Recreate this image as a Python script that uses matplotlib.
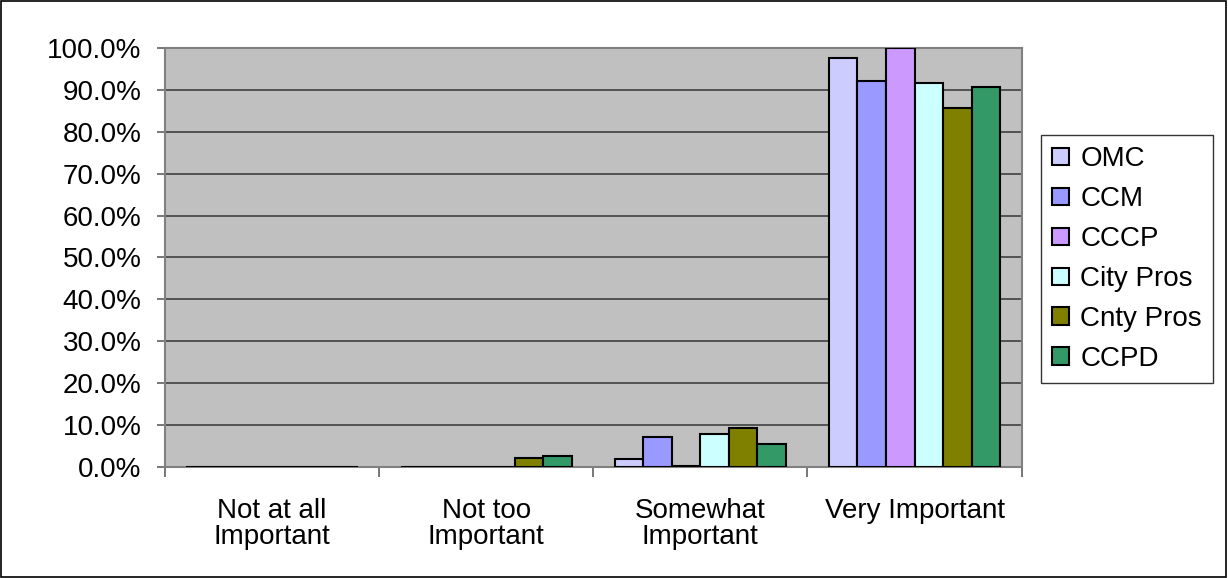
import numpy as np
import matplotlib.pyplot as plt
from matplotlib.patches import Rectangle

plt.rcParams['font.family'] = ['Liberation Sans', 'DejaVu Sans']

categories = ['Not at all\nImportant', 'Not too\nImportant', 'Somewhat\nImportant', 'Very Important']
series = ['OMC', 'CCM', 'CCCP', 'City Pros', 'Cnty Pros', 'CCPD']
colors = ['#CCCCFF', '#9999FF', '#CC99FF', '#CCFFFF', '#808000', '#339966']

omc = [0.0, 0.0, 1.8, 97.7]
ccm = [0.0, 0.0, 7.1, 92.0]
cccp = [0.0, 0.0, 0.2, 100.0]
city_pros = [0.0, 0.0, 8.0, 91.6]
cnty_pros = [0.0, 2.2, 9.2, 85.7]
ccpd = [0.0, 2.7, 5.5, 90.6]
values = [omc, ccm, cccp, city_pros, cnty_pros, ccpd]

fig = plt.figure(figsize=(12.28, 5.78), dpi=100)
ax = fig.add_axes([0.1344, 0.192, 0.6975, 0.725])
ax.set_facecolor('#C0C0C0')

x = np.arange(len(categories))
w = 0.8 / len(series)
for i, (name, vals) in enumerate(zip(series, values)):
    ax.bar(x - 0.4 + w * (i + 0.5), vals, w, color=colors[i], edgecolor='black',
           linewidth=1.5, label=name, zorder=3)

ax.set_xlim(-0.5, len(categories) - 0.5)
ax.set_ylim(0, 100)
ax.set_yticks(np.arange(0, 101, 10))
ax.set_yticklabels(['%.1f%%' % v for v in np.arange(0, 101, 10)], fontsize=20)
ax.yaxis.grid(True, color='#404040', linewidth=1.2, zorder=1)
ax.set_axisbelow(True)

ax.set_xticks(x)
ax.set_xticklabels(categories, fontsize=20, linespacing=1.0)
ax.set_xticks(np.arange(-0.5, len(categories)), minor=True)
ax.tick_params(axis='x', which='major', length=0, pad=22)
ax.tick_params(axis='x', which='minor', length=7, color='#606060', width=1.2)
ax.tick_params(axis='y', length=6, color='#606060', width=1.2, pad=11)

for s in ax.spines.values():
    s.set_color('#808080')
    s.set_linewidth(1.5)

leg = ax.legend(loc='center left', bbox_to_anchor=(1.023, 0.496), fontsize=20,
                frameon=True, fancybox=False, edgecolor='black', borderpad=0.4,
                labelspacing=0.5, handlelength=0.6, handleheight=0.6, handletextpad=0.4,
                borderaxespad=0)
leg.get_frame().set_linewidth(1.0)

fig.patches.append(Rectangle((0.001, 0.001), 0.997, 0.997, transform=fig.transFigure,
                             fill=False, edgecolor='black', linewidth=1.2))

fig.savefig('out.png', dpi=100)
